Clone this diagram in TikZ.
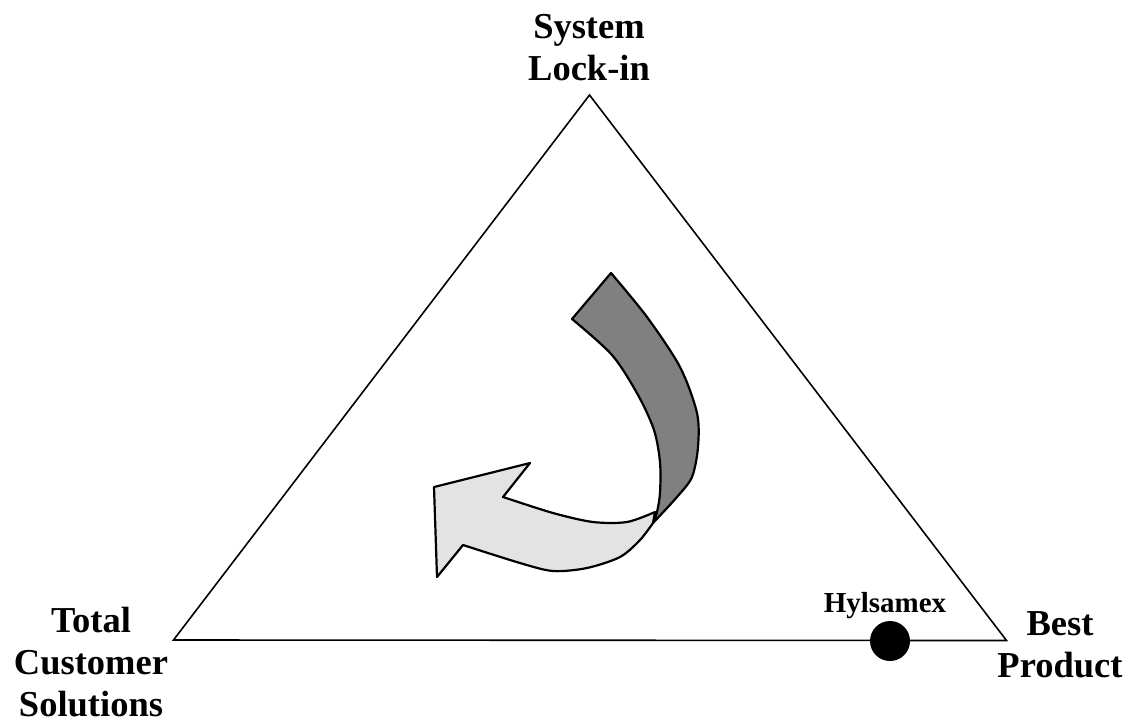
\documentclass[tikz,border=0pt]{standalone}
\usepackage{fontspec}
\setmainfont{Liberation Serif}
\begin{document}
\begin{tikzpicture}[x=1pt,y=-1pt,
  lbl/.style={font=\bfseries\fontsize{36.5}{42}\selectfont, align=center, inner sep=0pt, anchor=base},
  tri/.style={draw=black, line width=1.6pt, line join=miter},
  darkband/.style={fill=black!50, draw=black, line width=2.2pt, line join=round},
  lightband/.style={fill=black!11, draw=black, line width=2.2pt, line join=round}]
\useasboundingbox (0,0) rectangle (1129,723);
\coordinate (top) at (589.5,95);
\coordinate (bl) at (173.5,640);
\coordinate (br) at (1006.5,640.5);
\draw[tri] (top) -- (bl) -- (br) -- cycle;
% arrow: light part
\path[lightband] (503,497) -- (530,463) -- (434,487) -- (437,577) -- (463,545)
  -- plot[smooth] coordinates {(463,545) (520,563) (553,571) (587,568) (620,557) (640,540) (653,523)}
  -- (655,512)
  -- plot[smooth] coordinates {(655,512) (627,522) (593,522) (553,513) (503,497)} -- cycle;
% arrow: dark part
\path[darkband] (572,319) -- (611,273)
  -- plot[smooth] coordinates {(611,273) (647,317) (680,367) (697,413) (698,447) (692,477) (677,497) (653,523)}
  -- plot[smooth] coordinates {(653,523) (657,512) (660,493) (660,462) (654,430) (638,395) (612,355) (572,319)} -- cycle;
\node[lbl] (sys) at (589,80) {System\\Lock-in};
\node[lbl] (tcs) at (91,716) {Total\\Customer\\Solutions};
\node[lbl] (bp) at (1060,677) {Best\\Product};
\node[circle, fill=black, minimum size=40pt, inner sep=0pt] (hyl) at (890,641) {};
\node[font=\bfseries\fontsize{29}{34}\selectfont, inner sep=0pt, anchor=base] (hyllbl) at (885,612) {Hylsamex};
\end{tikzpicture}
\end{document}
